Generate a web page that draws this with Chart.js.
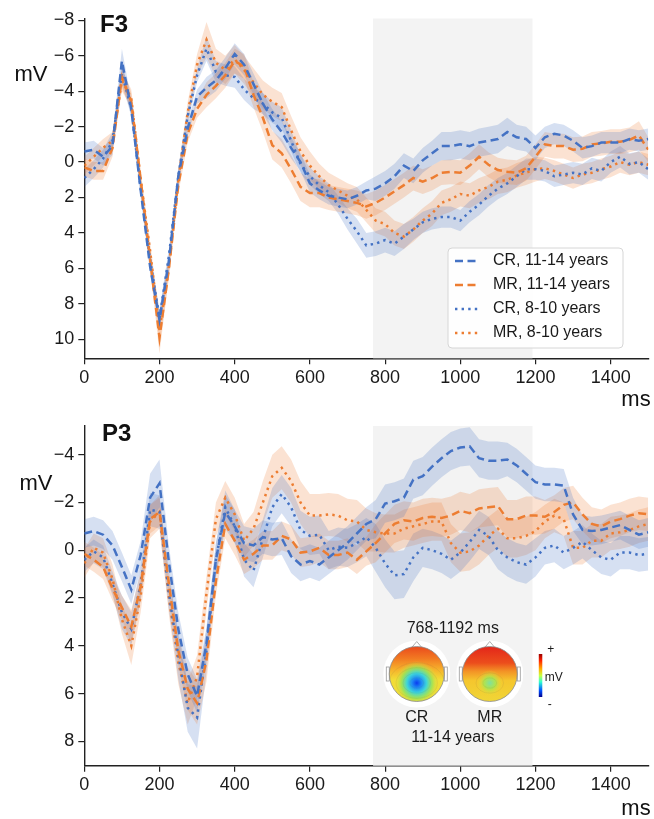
<!DOCTYPE html>
<html>
<head>
<meta charset="utf-8">
<script src="https://cdn.jsdelivr.net/npm/chart.js@4.4.1/dist/chart.umd.min.js"></script>
<style>
  body { margin: 0; background: #fff; }
  #wrap { position: relative; width: 654px; height: 819px; }
  canvas { position: absolute; left: 0; }
</style>
</head>
<body>
<div id="wrap">
  <canvas id="chartF3" width="654" height="410" style="top:0"></canvas>
  <canvas id="chartP3" width="654" height="409" style="top:410px"></canvas>
</div>
<script>
// time axis (ms), 25 ms steps
const times = [0,25,50,75,100,125,150,175,200,225,250,275,300,325,350,375,400,425,450,475,500,525,550,575,
  600,625,650,675,700,725,750,775,800,825,850,875,900,925,950,975,1000,1025,1050,1075,1100,1125,1150,1175,
  1200,1225,1250,1275,1300,1325,1350,1375,1400,1425,1450,1475,1500];

const seriesLabels = ['CR, 11-14 years', 'MR, 11-14 years', 'CR, 8-10 years', 'MR, 8-10 years'];
const xTicks = [0, 200, 400, 600, 800, 1000, 1200, 1400];
const f3YTicks = [-8, -6, -4, -2, 0, 2, 4, 6, 8, 10];
const p3YTicks = [-4, -2, 0, 2, 4, 6, 8];
const windowStart = 768, windowEnd = 1192;

// ---- F3 means (mV) ----
const f3CR11 = [-0.6,-0.7,-0.3,-0.9,-5.7,-3.0,1.6,5.9,
  8.9,5.6,0.8,-1.9,-3.7,-4.2,-4.6,-5.3,
  -6.1,-5.5,-4.4,-3.3,-2.4,-1.7,-0.8,0.0,
  1.2,1.6,1.9,2.0,2.1,1.9,1.6,1.5,
  1.2,0.8,0.2,0.5,-0.1,-0.5,-0.9,-0.9,
  -1.0,-0.9,-1.1,-1.2,-1.3,-1.7,-1.4,-1.3,
  -0.8,-1.4,-1.6,-1.5,-1.2,-0.8,-0.9,-1.1,
  -1.1,-1.1,-1.3,-1.2,-1.3];
const f3MR11 = [0.3,0.5,0.5,-0.8,-4.8,-3.4,1.0,5.5,
  9.9,6.0,1.3,-1.6,-3.0,-3.8,-4.3,-4.9,
  -5.7,-5.4,-3.8,-2.5,-0.95,-0.5,0.4,1.4,
  1.75,1.75,2.0,2.1,2.2,2.3,2.5,2.3,
  2.0,1.65,1.3,0.9,1.1,0.9,0.6,0.55,
  0.6,0.2,-0.3,0.15,0.45,0.55,0.6,0.35,
  -0.3,-1.0,-0.9,-0.9,-0.7,-0.75,-1.0,-1.05,
  -1.15,-1.15,-1.25,-1.5,-0.7];
const f3CR8 = [0.9,0.4,-0.2,-1.2,-5.0,-3.0,1.5,5.5,
  8.8,5.3,0.8,-2.6,-4.9,-6.4,-5.1,-4.9,
  -4.8,-4.1,-3.6,-3.3,-2.8,-2.5,-1.2,0.1,
  0.8,1.3,1.7,2.4,3.2,3.9,4.7,4.6,
  4.4,4.6,4.2,3.8,3.4,3.2,3.1,3.1,
  3.3,2.8,2.4,1.9,1.5,1.2,0.8,0.4,
  0.4,0.5,0.8,0.7,0.6,0.7,0.35,0.5,
  0.0,-0.3,0.1,0.0,0.4];
const f3MR8 = [0.2,-0.3,-0.8,-1.2,-4.6,-3.6,1.0,5.0,
  9.5,5.9,1.0,-2.8,-5.5,-6.9,-5.6,-5.2,
  -5.8,-5.2,-4.5,-3.8,-3.4,-3.1,-1.8,-0.6,
  0.2,0.8,1.3,1.6,1.9,2.1,2.7,3.3,
  3.5,4.0,4.2,3.8,3.3,2.9,2.3,2.1,
  1.8,1.9,1.6,1.4,1.1,1.0,0.75,0.6,
  0.4,0.35,0.5,0.7,0.9,0.7,0.6,0.4,
  0.25,0.0,0.15,0.0,0.15];

// ---- F3 band half-widths ----
const f3CR11Hw = [0.5,0.5,0.5,0.5,0.7,0.5,0.4,0.4,
  0.5,0.4,0.4,0.4,0.4,0.6,0.6,0.6,
  0.6,0.6,0.6,0.6,0.6,0.6,0.6,0.5,
  0.5,0.5,0.5,0.5,0.5,0.5,0.5,0.7,
  0.7,0.7,0.7,0.7,0.7,0.7,0.8,0.8,
  0.8,0.8,0.8,0.8,0.8,0.8,0.7,0.7,
  0.7,0.6,0.6,0.6,0.6,0.6,0.6,0.6,
  0.6,0.6,0.6,0.6,0.6];
const f3MR11Hw = [0.5,0.5,0.5,0.5,0.6,0.5,0.5,0.5,
  0.9,0.5,0.5,0.5,0.5,0.7,0.7,0.7,
  0.7,0.7,0.7,0.8,0.8,0.8,0.8,0.8,
  0.8,0.8,0.7,0.7,0.7,0.7,0.7,0.7,
  0.7,0.7,0.7,0.7,0.7,0.7,0.7,0.7,
  0.7,0.7,0.7,0.7,0.7,0.7,0.7,0.7,
  0.7,0.7,0.7,0.7,0.7,0.7,0.7,0.7,
  0.7,0.7,0.7,0.8,0.7];
const f3CR8Hw = [0.5,0.5,0.5,0.5,0.6,0.4,0.4,0.4,
  0.5,0.4,0.4,0.4,0.4,0.7,0.6,0.6,
  0.6,0.6,0.6,0.6,0.6,0.6,0.6,0.5,
  0.5,0.5,0.5,0.5,0.6,0.7,0.7,0.7,
  0.7,0.7,0.7,0.6,0.6,0.6,0.6,0.6,
  0.6,0.6,0.6,0.6,0.6,0.6,0.6,0.6,
  0.6,0.6,0.6,0.6,0.6,0.6,0.6,0.6,
  0.6,0.6,0.6,0.6,0.6];
const f3MR8Hw = [0.5,0.5,0.5,0.5,0.6,0.5,0.5,0.5,
  0.9,0.6,0.6,0.6,0.6,1.0,0.8,0.8,
  0.8,0.8,0.8,0.8,0.8,0.8,0.8,0.8,
  0.8,0.7,0.7,0.7,0.7,0.7,0.7,0.7,
  0.7,0.7,0.7,0.7,0.7,0.7,0.7,0.7,
  0.7,0.7,0.7,0.7,0.7,0.7,0.7,0.7,
  0.7,0.6,0.6,0.6,0.6,0.6,0.6,0.6,
  0.6,0.6,0.6,0.6,0.6];

// ---- P3 means (mV) ----
const p3CR11 = [-0.7,-0.8,-0.65,-0.2,0.7,1.65,0.2,-2.2,
  -2.8,0.5,3.3,5.2,6.1,3.9,0.4,-1.6,
  -1.0,-0.3,-0.2,-0.55,-0.45,-0.5,0.25,0.6,
  0.45,0.6,0.3,0.0,-0.3,-0.7,-1.1,-1.3,
  -1.95,-2.05,-2.2,-2.95,-3.1,-3.5,-3.85,-4.15,
  -4.3,-4.35,-3.85,-3.75,-3.75,-3.8,-3.55,-3.2,
  -2.85,-2.75,-2.75,-2.7,-1.5,-0.85,-0.8,-0.85,
  -0.95,-1.05,-0.85,-0.65,-0.75];
const p3MR11 = [0.15,0.4,0.7,1.6,2.4,3.2,1.5,-1.3,
  -1.6,1.4,4.2,5.8,6.4,4.6,1.3,-1.1,
  -0.4,0.4,0.15,-0.2,-0.2,-0.6,-0.45,0.1,
  0.05,-0.1,0.2,0.2,0.1,0.4,0.05,-0.3,
  -0.7,-1.1,-1.25,-1.2,-1.35,-1.4,-1.35,-1.45,
  -1.65,-1.55,-1.75,-1.8,-1.85,-1.3,-1.3,-1.45,
  -1.45,-1.4,-1.6,-1.9,-2.0,-1.5,-1.1,-1.0,
  -1.2,-1.3,-1.45,-1.55,-1.5];
const p3CR8 = [0.4,0.05,0.3,1.4,2.6,3.3,1.4,-1.7,
  -1.6,1.8,4.4,6.6,7.0,4.2,0.4,-1.8,
  -1.0,0.4,0.85,-0.5,-1.8,-2.35,-1.8,-0.85,
  -0.6,-0.65,0.0,-0.15,-0.1,-0.3,-0.55,-0.1,
  0.55,1.05,1.0,0.3,-0.1,0.0,0.15,0.4,
  0.1,-0.35,-0.85,-0.6,0.0,0.3,0.5,0.6,
  0.3,-0.1,-0.2,0.1,-0.1,-0.35,0.0,0.3,
  0.4,0.1,0.1,0.2,0.15];
const p3MR8 = [0.55,-0.1,0.1,1.2,2.9,4.0,1.9,-1.2,
  -1.6,2.0,4.7,6.4,5.3,1.8,-1.3,-2.2,
  -1.5,-0.4,-0.9,-2.0,-3.1,-3.45,-2.9,-2.0,
  -1.45,-1.45,-1.5,-1.45,-1.25,-1.2,-0.85,-0.75,
  -0.7,-0.7,-0.9,-1.0,-1.1,-1.2,-1.2,-0.3,
  0.1,0.05,-0.2,-0.6,-0.9,-0.5,-0.5,-0.6,
  -0.8,-1.2,-1.45,-1.3,-0.1,-0.1,-0.4,-0.4,
  -0.7,-0.75,-0.85,-1.0,-1.1];

// ---- P3 band half-widths ----
const p3CR11Hw = [0.6,0.6,0.6,0.6,0.6,0.6,0.6,1.0,
  1.0,0.7,0.7,0.7,0.7,0.7,0.7,0.7,
  0.7,0.7,0.7,0.7,0.7,0.7,0.7,0.7,
  0.7,0.7,0.7,0.7,0.7,0.7,0.7,0.8,
  0.8,0.8,0.8,0.8,0.8,0.8,0.8,0.8,
  0.8,0.8,0.8,0.8,0.8,0.7,0.7,0.7,
  0.7,0.7,0.7,0.7,0.7,0.6,0.6,0.6,
  0.6,0.6,0.6,0.6,0.6];
const p3MR11Hw = [0.5,0.5,0.5,0.5,0.5,0.7,0.6,0.6,
  0.6,0.6,0.6,0.9,0.9,0.9,0.6,0.6,
  0.6,0.6,0.6,0.6,0.6,0.6,0.6,0.6,
  0.6,0.6,0.6,0.6,0.6,0.6,0.6,0.8,
  0.8,0.8,0.8,0.8,0.8,0.8,0.8,0.8,
  0.8,0.8,0.8,0.8,0.8,0.8,0.8,0.8,
  0.8,0.7,0.7,0.7,0.7,0.7,0.7,0.7,
  0.7,0.7,0.7,0.7,0.7];
const p3CR8Hw = [0.5,0.5,0.5,0.5,0.7,0.7,0.7,0.7,
  0.7,0.7,1.0,1.0,1.3,0.9,0.7,0.7,
  0.7,0.7,0.7,0.8,0.8,0.8,0.8,0.8,
  0.8,0.8,0.8,0.8,0.8,0.8,0.8,1.0,
  1.0,1.0,1.0,1.0,0.8,0.8,0.8,0.8,
  0.8,0.8,0.8,0.8,0.8,0.8,0.8,0.8,
  0.8,0.7,0.7,0.7,0.7,0.7,0.7,0.7,
  0.7,0.7,0.7,0.7,0.7];
const p3MR8Hw = [0.6,0.6,0.6,0.6,0.6,0.8,0.7,0.7,
  0.7,0.7,0.9,0.9,0.9,0.7,0.7,0.7,
  0.7,0.7,0.7,0.9,0.9,0.9,0.9,0.9,
  0.9,0.9,0.9,0.9,0.9,0.9,0.9,0.8,
  0.8,0.8,0.8,0.8,0.8,0.8,0.8,0.8,
  0.8,0.8,0.8,0.8,0.8,0.8,0.8,0.8,
  0.8,0.7,0.7,0.7,0.7,0.7,0.7,0.7,
  0.7,0.7,0.7,0.7,0.7];

const BLUE = '#4472c4', ORANGE = '#ed7d31';
const BLUE_BAND = 'rgba(68,114,196,0.22)', ORANGE_BAND = 'rgba(237,125,49,0.22)';
const DASHED = [8, 4.5], DOTTED = [2.4, 4.2];
const FONT = '"Liberation Sans", Arial, sans-serif';

Chart.defaults.font.family = FONT;
Chart.defaults.color = '#1a1a1a';

// band (upper + lower) plus the mean line for one condition
function seriesSets(vals, hw, color, band, dash, label) {
  const pts = arr => arr.map((v, i) => ({ x: times[i], y: v }));
  return [
    { data: pts(vals.map((v, i) => v - hw[i])), fill: '+1', backgroundColor: band,
      borderWidth: 0, pointRadius: 0, order: 2 },
    { data: pts(vals.map((v, i) => v + hw[i])), fill: false, borderWidth: 0, pointRadius: 0, order: 2 },
    { label: label, data: pts(vals), borderColor: color, borderWidth: 2.5, borderDash: dash,
      fill: false, pointRadius: 0, tension: 0, order: 1 }
  ];
}

function minusLabel(v) {
  return v < 0 ? '\u2212' + Math.abs(v) : String(v);
}

function drawHead(ctx, cx, cy, r, kind) {
  ctx.save();
  ctx.fillStyle = '#fff';
  ctx.beginPath(); ctx.arc(cx, cy, r + 6, 0, 2 * Math.PI); ctx.fill();
  ctx.strokeStyle = '#9a9a9a'; ctx.lineWidth = 0.8;
  // nose and ears
  ctx.beginPath(); ctx.moveTo(cx - 5, cy - r + 1); ctx.lineTo(cx, cy - r - 5); ctx.lineTo(cx + 5, cy - r + 1); ctx.stroke();
  ctx.strokeRect(cx - r - 3, cy - 7, 3, 14);
  ctx.strokeRect(cx + r, cy - 7, 3, 14);
  ctx.beginPath(); ctx.arc(cx, cy, r, 0, 2 * Math.PI); ctx.clip();
  const g = ctx.createLinearGradient(0, cy - r, 0, cy + r);
  if (kind === 'CR') {
    g.addColorStop(0, '#ea4a1c'); g.addColorStop(0.22, '#f27a22');
    g.addColorStop(0.42, '#f6b22c'); g.addColorStop(0.6, '#f2dc36'); g.addColorStop(1, '#eedd3a');
  } else {
    g.addColorStop(0, '#e3261a'); g.addColorStop(0.3, '#ec4e1c');
    g.addColorStop(0.45, '#f39326'); g.addColorStop(0.62, '#f5c62e'); g.addColorStop(1, '#f0d636');
  }
  ctx.fillStyle = g;
  ctx.fillRect(cx - r, cy - r, 2 * r, 2 * r);
  const bx = cx, by = cy + 9;
  const rad = kind === 'CR' ? 22 : 13;
  const b = ctx.createRadialGradient(bx, by, 0, bx, by, rad);
  if (kind === 'CR') {
    b.addColorStop(0, '#0a3cf0'); b.addColorStop(0.22, '#1e8cf5'); b.addColorStop(0.45, '#3fd6d8');
    b.addColorStop(0.7, 'rgba(150,228,90,0.85)'); b.addColorStop(1, 'rgba(240,220,50,0)');
  } else {
    b.addColorStop(0, '#7fe0a0'); b.addColorStop(0.45, 'rgba(170,230,80,0.9)');
    b.addColorStop(1, 'rgba(240,220,50,0)');
  }
  ctx.fillStyle = b;
  ctx.beginPath(); ctx.ellipse(bx, by, rad * 1.1, rad, 0, 0, 2 * Math.PI); ctx.fill();
  ctx.strokeStyle = 'rgba(90,90,90,0.18)'; ctx.lineWidth = 0.5;
  const rings = kind === 'CR' ? [6, 12, 18, 24] : [6, 12];
  rings.forEach(rr => {
    ctx.beginPath(); ctx.ellipse(bx, by, rr * 1.15, rr * 0.85, 0, 0, 2 * Math.PI); ctx.stroke();
  });
  ctx.restore();
  ctx.save();
  ctx.strokeStyle = '#8a8a8a'; ctx.lineWidth = 0.8;
  ctx.beginPath(); ctx.arc(cx, cy, r, 0, 2 * Math.PI); ctx.stroke();
  ctx.restore();
}

const decor = {
  id: 'decor',
  beforeDatasetsDraw(chart, args, o) {
    const { ctx, chartArea: a, scales: { x } } = chart;
    const x0 = x.getPixelForValue(windowStart), x1 = x.getPixelForValue(windowEnd);
    ctx.save();
    ctx.fillStyle = '#f3f3f3';
    ctx.fillRect(x0, a.top, x1 - x0, a.bottom - a.top);
    ctx.restore();
  },
  afterDatasetsDraw(chart, args, o) {
    const { ctx, scales: { x } } = chart;
    if (o.legend) {
      const L = o.legend;
      ctx.save();
      ctx.beginPath(); ctx.roundRect(L.x, L.y, L.w, L.h, 4);
      ctx.fillStyle = 'rgba(255,255,255,0.85)'; ctx.fill();
      ctx.strokeStyle = '#d6d6d6'; ctx.lineWidth = 1; ctx.stroke();
      const styles = [[BLUE, DASHED], [ORANGE, DASHED], [BLUE, DOTTED], [ORANGE, DOTTED]];
      ctx.font = '16px ' + FONT; ctx.textBaseline = 'middle'; ctx.fillStyle = '#1a1a1a';
      seriesLabels.forEach((lab, i) => {
        const yy = L.y + 13 + i * 24;
        ctx.strokeStyle = styles[i][0]; ctx.setLineDash(styles[i][1]); ctx.lineWidth = 2.5;
        ctx.beginPath(); ctx.moveTo(L.x + 7, yy); ctx.lineTo(L.x + 31, yy); ctx.stroke();
        ctx.setLineDash([]);
        ctx.fillText(lab, L.x + 45, yy);
      });
      ctx.restore();
    }
    if (o.inset) {
      const cx = x.getPixelForValue((windowStart + windowEnd) / 2);
      const cy = o.inset.y;
      ctx.save();
      ctx.fillStyle = '#1a1a1a'; ctx.textAlign = 'center'; ctx.textBaseline = 'middle';
      ctx.font = '16px ' + FONT;
      ctx.fillText(windowStart + '-' + windowEnd + ' ms', cx, cy - 45);
      ctx.restore();
      drawHead(ctx, cx - 36, cy, 27.5, 'CR');
      drawHead(ctx, cx + 37, cy, 27.5, 'MR');
      ctx.save();
      ctx.fillStyle = '#1a1a1a'; ctx.textAlign = 'center'; ctx.textBaseline = 'middle';
      ctx.font = '16px ' + FONT;
      ctx.fillText('CR', cx - 36, cy + 44);
      ctx.fillText('MR', cx + 37, cy + 44);
      ctx.fillText('11-14 years', cx, cy + 64);
      // colour bar
      const cb = ctx.createLinearGradient(0, cy - 20, 0, cy + 23);
      cb.addColorStop(0, '#9a0000'); cb.addColorStop(0.15, '#ff2000'); cb.addColorStop(0.35, '#ffb000');
      cb.addColorStop(0.5, '#c8ff40'); cb.addColorStop(0.65, '#30ffd0'); cb.addColorStop(0.85, '#0050ff');
      cb.addColorStop(1, '#00008f');
      ctx.fillStyle = cb;
      ctx.fillRect(cx + 86, cy - 20, 3.5, 43);
      ctx.fillStyle = '#1a1a1a';
      ctx.font = '12px ' + FONT;
      ctx.fillText('+', cx + 98, cy - 24);
      ctx.fillText('-', cx + 97, cy + 31);
      ctx.textAlign = 'left';
      ctx.fillText('mV', cx + 92, cy + 4);
      ctx.restore();
    }
  },
  afterDraw(chart, args, o) {
    const ctx = chart.ctx;
    ctx.save();
    ctx.fillStyle = '#111';
    ctx.textBaseline = 'middle';
    ctx.font = 'bold 24px ' + FONT;
    ctx.fillText(o.title, o.titleX, o.titleY);
    ctx.font = '22px ' + FONT;
    ctx.textAlign = 'center';
    ctx.fillText('mV', o.mvX, o.mvY);
    ctx.fillText('ms', 636, o.msY);
    ctx.restore();
  }
};

function makeChart(id, sets, yTicks, yMin, yMax, padTop, xHeight, deco) {
  return new Chart(document.getElementById(id), {
    type: 'line',
    data: { datasets: sets },
    plugins: [decor],
    options: {
      responsive: false,
      animation: false,
      devicePixelRatio: 1,
      layout: { padding: { top: padTop, right: 5.7, left: 0, bottom: 0 } },
      plugins: { legend: { display: false }, tooltip: { enabled: false }, decor: deco },
      scales: {
        x: {
          type: 'linear', min: 0, max: 1500,
          afterBuildTicks: s => { s.ticks = xTicks.map(v => ({ value: v })); },
          afterFit: s => { s.height = xHeight; },
          ticks: { font: { size: 18 }, padding: 3, autoSkip: false, maxRotation: 0, color: '#1a1a1a',
                   callback: v => String(v) },
          grid: { display: true, drawOnChartArea: false, drawTicks: true, tickLength: 6, color: '#222', lineWidth: 1.2 },
          border: { display: true, color: '#222', width: 1.4 }
        },
        y: {
          type: 'linear', reverse: true, min: yMin, max: yMax,
          afterBuildTicks: s => { s.ticks = yTicks.map(v => ({ value: v })); },
          afterFit: s => { s.width = 84.3; },
          ticks: { font: { size: 18 }, padding: 4, callback: minusLabel, color: '#1a1a1a' },
          grid: { display: true, drawOnChartArea: false, drawTicks: true, tickLength: 6, color: '#222', lineWidth: 1.2 },
          border: { display: true, color: '#222', width: 1.4 }
        }
      }
    }
  });
}

const f3Sets = [].concat(
  seriesSets(f3CR11, f3CR11Hw, BLUE, BLUE_BAND, DASHED, seriesLabels[0]),
  seriesSets(f3MR11, f3MR11Hw, ORANGE, ORANGE_BAND, DASHED, seriesLabels[1]),
  seriesSets(f3CR8, f3CR8Hw, BLUE, BLUE_BAND, DOTTED, seriesLabels[2]),
  seriesSets(f3MR8, f3MR8Hw, ORANGE, ORANGE_BAND, DOTTED, seriesLabels[3])
);
const p3Sets = [].concat(
  seriesSets(p3CR11, p3CR11Hw, BLUE, BLUE_BAND, DASHED, seriesLabels[0]),
  seriesSets(p3MR11, p3MR11Hw, ORANGE, ORANGE_BAND, DASHED, seriesLabels[1]),
  seriesSets(p3CR8, p3CR8Hw, BLUE, BLUE_BAND, DOTTED, seriesLabels[2]),
  seriesSets(p3MR8, p3MR8Hw, ORANGE, ORANGE_BAND, DOTTED, seriesLabels[3])
);

makeChart('chartF3', f3Sets, f3YTicks, -8.1, 11.07, 18.5, 51.7, {
  title: 'F3', titleX: 100, titleY: 25, mvX: 31, mvY: 75, msY: 400,
  legend: { x: 448, y: 248, w: 175, h: 100 }
});
makeChart('chartP3', p3Sets, p3YTicks, -5.2, 9.02, 16, 53.3, {
  title: 'P3', titleX: 102, titleY: 24, mvX: 36, mvY: 74, msY: 399,
  inset: { y: 264 }
});
</script>
</body>
</html>
